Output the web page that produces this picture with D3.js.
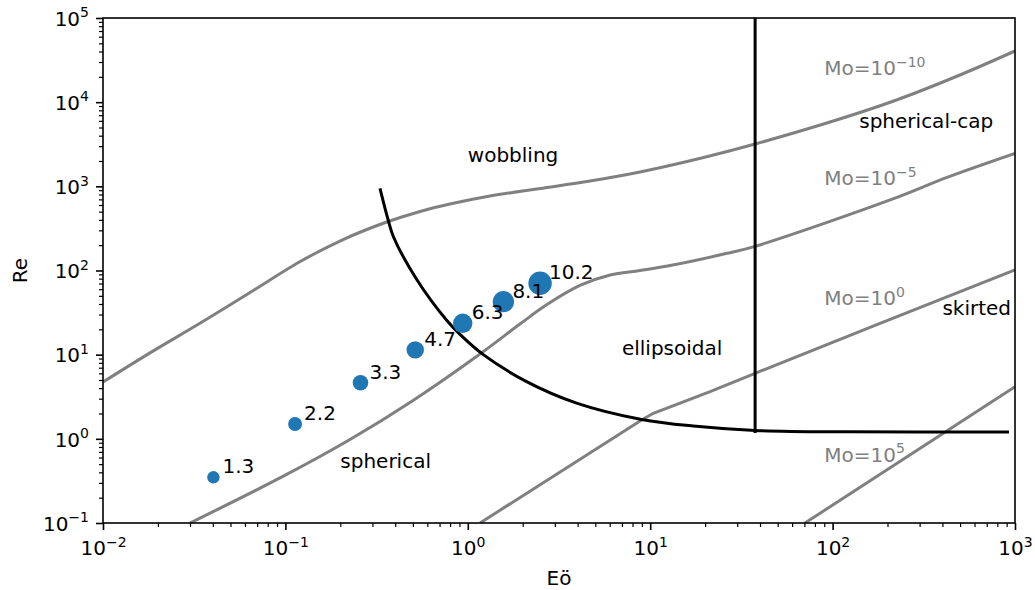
<!DOCTYPE html>
<html><head><meta charset="utf-8">
<script src="https://cdn.jsdelivr.net/npm/d3@7"></script>
<style>
body{margin:0;background:#fff;}
text{font-family:"DejaVu Sans","Liberation Sans",sans-serif;}
</style></head><body>
<svg id="chart" width="1035" height="590"></svg>
<script>
// ---- data ----
const bubbleDiameters = [1.3, 2.2, 3.3, 4.7, 6.3, 8.1, 10.2];
const bubbleEo = [0.0403, 0.113, 0.258, 0.515, 0.938, 1.567, 2.49];
const bubbleRe = [0.349, 1.50, 4.64, 11.4, 23.6, 42.6, 70.5];

// Morton-number lines
const moExponents = [-10, -5, 0, 5];
const moM10Eo = [0.01, 0.0181, 0.0340, 0.0640, 0.120, 0.199, 0.344, 0.547, 0.798, 1.324, 2.49, 4.68, 8.79, 20.4, 37.6, 96.8, 224, 499, 1000];
const moM10Re = [4.73, 10.5, 23.6, 54.8, 127, 224, 364, 503, 617, 768, 942, 1157, 1481, 2249, 3184, 5808, 10617, 21030, 40551];
const moM5Eo = [0.030, 0.0934, 0.226, 0.501, 1.167, 1.93, 2.69, 4.12, 6.03, 8.79, 13.3, 26.4, 38.0, 214, 424, 1000];
const moM5Re = [0.1, 0.343, 0.982, 2.86, 10.2, 23.1, 38.9, 66.5, 88.5, 100, 116, 160, 195, 708, 1277, 2462];
const mo0Eo = [1.167, 8.97, 10.4, 21.3, 37.6, 182, 1000];
const mo0Re = [0.1, 1.675, 2.01, 3.63, 6.01, 23.6, 101.4];
const mo5Eo = [70.6, 1000];
const mo5Re = [0.1, 4.17];

// regime boundaries
const boundaryEo = [0.330, 0.366, 0.391, 0.525, 0.766, 0.906, 1.216, 2.10, 3.95, 8.97, 17.2, 37.6, 124, 927];
const boundaryRe = [948, 398, 252, 78.2, 25.6, 17.4, 10.0, 4.79, 2.66, 1.70, 1.42, 1.26, 1.21, 1.205];
const verticalEo = [37.6, 37.6];
const verticalRe = [1.17, 1e5];

// region labels
const regionNames = ["wobbling", "spherical", "ellipsoidal", "spherical-cap", "skirted"];
const regionEo = [1.0, 0.2, 7, 140, 400];
const regionRe = [1970, 0.447, 10, 4900, 30];

// Mo labels
const moLabelEo = [90, 90, 90, 90];
const moLabelRe = [21000, 1037, 38.9, 0.535];

// axes
const xTickExps = [-2, -1, 0, 1, 2, 3];
const yTickExps = [-1, 0, 1, 2, 3, 4, 5];
const xLabel = "Eö";
const yLabel = "Re";

// ---- drawing ----
const svg = d3.select("#chart");
const L = 103, R = 1015, T = 18, B = 523;
const x = d3.scaleLog().domain([1e-2, 1e3]).range([L, R]);
const y = d3.scaleLog().domain([1e-1, 1e5]).range([B, T]);

svg.append("rect").attr("width", 1035).attr("height", 590).attr("fill", "#fff");
svg.append("clipPath").attr("id", "clip").append("rect")
  .attr("x", L).attr("y", T).attr("width", R - L).attr("height", B - T);

const plot = svg.append("g").attr("clip-path", "url(#clip)");
const smooth = d3.line().x(d => x(d[0])).y(d => y(d[1])).curve(d3.curveCatmullRom.alpha(0.5));
const straight = d3.line().x(d => x(d[0])).y(d => y(d[1]));
const zip = (a, b) => a.map((v, i) => [v, b[i]]);

const moCurves = [
  {pts: zip(moM10Eo, moM10Re), gen: smooth},
  {pts: zip(moM5Eo, moM5Re), gen: smooth},
  {pts: zip(mo0Eo, mo0Re), gen: straight},
  {pts: zip(mo5Eo, mo5Re), gen: straight}
];
plot.selectAll("path.mo").data(moCurves).join("path").attr("class", "mo")
  .attr("d", c => c.gen(c.pts)).attr("fill", "none").attr("stroke", "#808080").attr("stroke-width", 3);

plot.append("path").attr("d", smooth(zip(boundaryEo, boundaryRe)))
  .attr("fill", "none").attr("stroke", "#000").attr("stroke-width", 3);
plot.append("path").attr("d", straight(zip(verticalEo, verticalRe)))
  .attr("fill", "none").attr("stroke", "#000").attr("stroke-width", 3);

// scatter
const area = d3.scaleLinear().domain([1.3, 10.2]).range([38.4, 136.9]);
const pts = bubbleDiameters.map((d, i) => ({d, eo: bubbleEo[i], re: bubbleRe[i]}));
svg.append("g").selectAll("circle").data(pts).join("circle")
  .attr("cx", p => x(p.eo)).attr("cy", p => y(p.re))
  .attr("r", p => Math.sqrt(area(p.d))).attr("fill", "#1f77b4");
svg.append("g").selectAll("text").data(pts).join("text")
  .attr("x", p => x(p.eo) + 9).attr("y", p => y(p.re) - 4)
  .attr("font-size", 20).attr("fill", "#000").text(p => p.d.toFixed(1));

// region labels
svg.append("g").selectAll("text").data(regionNames).join("text")
  .attr("x", (n, i) => x(regionEo[i])).attr("y", (n, i) => y(regionRe[i]))
  .attr("font-size", 20).attr("fill", "#000").text(n => n);

const supText = e => (e < 0 ? "\u2212" + Math.abs(e) : String(e));
function powLabel(sel, prefix, e) {
  sel.append("tspan").text(prefix + "10");
  sel.append("tspan").attr("dy", -8.5).attr("font-size", 14).text(supText(e));
}

// Mo labels
moExponents.forEach((e, i) => {
  const t = svg.append("text").attr("x", x(moLabelEo[i])).attr("y", y(moLabelRe[i]))
    .attr("font-size", 20).attr("fill", "#808080");
  powLabel(t, "Mo=", e);
});

// axes
function minorTicks(lo, hi) {
  const out = [];
  for (let k = lo; k < hi; k++) for (let m = 2; m <= 9; m++) out.push(m * Math.pow(10, k));
  return out;
}
const gx = svg.append("g").attr("transform", `translate(0,${B})`);
gx.call(d3.axisBottom(x).tickValues(minorTicks(-2, 3)).tickSize(4).tickFormat(""))
  .call(g => g.select(".domain").remove())
  .call(g => g.selectAll("line").attr("stroke-width", 1.2));
const gx2 = svg.append("g").attr("transform", `translate(0,${B})`);
gx2.call(d3.axisBottom(x).tickValues(xTickExps.map(e => Math.pow(10, e))).tickSize(7).tickFormat(""))
  .call(g => g.select(".domain").remove())
  .call(g => g.selectAll("line").attr("stroke-width", 1.6));
gx2.selectAll(".tick").each(function(d, i) {
  const t = d3.select(this).append("text").attr("x", 0).attr("y", 32)
    .attr("text-anchor", "middle").attr("font-size", 20).attr("fill", "#000");
  powLabel(t, "", xTickExps[i]);
});

const gy = svg.append("g").attr("transform", `translate(${L},0)`);
gy.call(d3.axisLeft(y).tickValues(minorTicks(-1, 5)).tickSize(4).tickFormat(""))
  .call(g => g.select(".domain").remove())
  .call(g => g.selectAll("line").attr("stroke-width", 1.2));
const gy2 = svg.append("g").attr("transform", `translate(${L},0)`);
gy2.call(d3.axisLeft(y).tickValues(yTickExps.map(e => Math.pow(10, e))).tickSize(7).tickFormat(""))
  .call(g => g.select(".domain").remove())
  .call(g => g.selectAll("line").attr("stroke-width", 1.6));
gy2.selectAll(".tick").each(function(d, i) {
  const t = d3.select(this).append("text").attr("x", -14).attr("y", 7.3)
    .attr("text-anchor", "end").attr("font-size", 20).attr("fill", "#000");
  powLabel(t, "", yTickExps[i]);
});

// spines
svg.append("rect").attr("x", L).attr("y", T).attr("width", R - L).attr("height", B - T)
  .attr("fill", "none").attr("stroke", "#000").attr("stroke-width", 1.6);

// axis labels
svg.append("text").attr("x", (L + R) / 2).attr("y", 585).attr("text-anchor", "middle")
  .attr("font-size", 20).text(xLabel);
svg.append("text").attr("transform", `translate(27,${(T + B) / 2}) rotate(-90)`)
  .attr("text-anchor", "middle").attr("font-size", 20).text(yLabel);
</script>
</body></html>
